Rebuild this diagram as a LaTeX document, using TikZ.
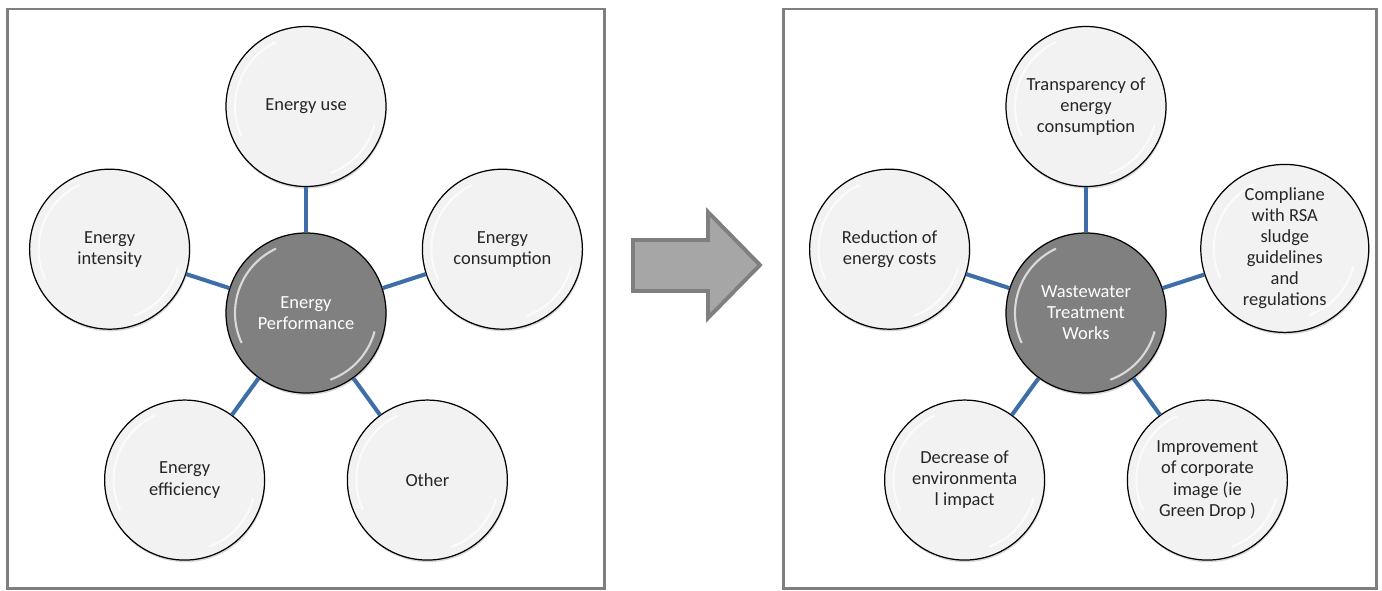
\documentclass[tikz,border=0pt]{standalone}
\usepackage{fontspec}
\setmainfont{Carlito}
\usetikzlibrary{shadows}
\definecolor{linkblue}{RGB}{62,110,168}
\definecolor{framegray}{RGB}{127,127,127}
\definecolor{leafgray}{RGB}{242,242,242}
\definecolor{hubgray}{RGB}{128,128,128}
\definecolor{arrowgray}{RGB}{166,166,166}
\definecolor{textgray}{RGB}{38,38,38}
\tikzset{
  basic/.style  = {circle, draw=black, line width=0.7pt, minimum size=3.2cm, inner sep=0pt,
                   align=center, font=\fontsize{10.5}{12}\selectfont,
                   drop shadow={opacity=0.3, shadow xshift=0.4pt, shadow yshift=-1.2pt}, gloss},
  leaf/.style   = {basic, fill=leafgray, text=textgray},
  hub/.style    = {basic, fill=hubgray, text=white},
  link/.style   = {draw=linkblue, line width=2.3pt},
  panel/.style  = {draw=framegray, line width=1.7pt},
  bigarrow/.style = {draw=framegray, fill=arrowgray, line width=2.2pt},
  gloss/.style  = {path picture={
      \draw[white, line width=1.2pt, opacity=0.7]
        ([shift={(115:1.42)}]path picture bounding box.center) arc[start angle=115, end angle=205, radius=1.42];
      \draw[white, line width=1.2pt, opacity=0.7]
        ([shift={(290:1.42)}]path picture bounding box.center) arc[start angle=290, end angle=345, radius=1.42];
  }}
}

\begin{document}
\begin{tikzpicture}
\useasboundingbox (0,0) rectangle (27.64,-11.8);

% the two panels
\draw[panel] (0.15,-0.18) rectangle (12.09,-11.76);
\draw[panel] (15.67,-0.18) rectangle (27.52,-11.76);

% block arrow between the panels
\draw[bigarrow] (12.66,-4.8) -- (14.16,-4.8) -- (14.16,-4.24) -- (15.2,-5.3)
  -- (14.16,-6.36) -- (14.16,-5.82) -- (12.66,-5.82) -- cycle;

% left panel, hub and its leaves
\node[hub] (ep) at (6.12,-6.26) {Energy\\Performance};
\node[leaf] (use) at ([shift={(90:4.13)}]ep) {Energy use};
\node[leaf] (cons) at ([shift={(18:4.13)}]ep) {Energy\\consumption};
\node[leaf] (int) at ([shift={(162:4.13)}]ep) {Energy\\intensity};
\node[leaf] (eff) at ([shift={(234:4.13)}]ep) {Energy\\efficiency};
\node[leaf] (oth) at ([shift={(306:4.13)}]ep) {Other};

% right panel, hub and its leaves
\node[hub] (wtw) at (21.72,-6.26) {Wastewater\\Treatment\\Works};
\node[leaf] (transp) at ([shift={(90:4.13)}]wtw) {Transparency of\\energy\\consumption};
\node[leaf, minimum size=3.36cm] (compl) at ([shift={(18:4.18)}]wtw) {Compliane\\with RSA\\sludge\\guidelines\\and\\regulations};
\node[leaf] (costs) at ([shift={(162:4.13)}]wtw) {Reduction of\\energy costs};
\node[leaf] (envir) at ([shift={(234:4.13)}]wtw) {Decrease of\\environmenta\\l impact};
\node[leaf] (image) at ([shift={(306:4.13)}]wtw) {Improvement\\of corporate\\image (ie\\Green Drop )};

% connectors from each hub to its leaves
\foreach \leaf in {use,cons,int,eff,oth}
  \draw[link] (ep) -- (\leaf);
\foreach \leaf in {transp,compl,costs,envir,image}
  \draw[link] (wtw) -- (\leaf);

\end{tikzpicture}
\end{document}
